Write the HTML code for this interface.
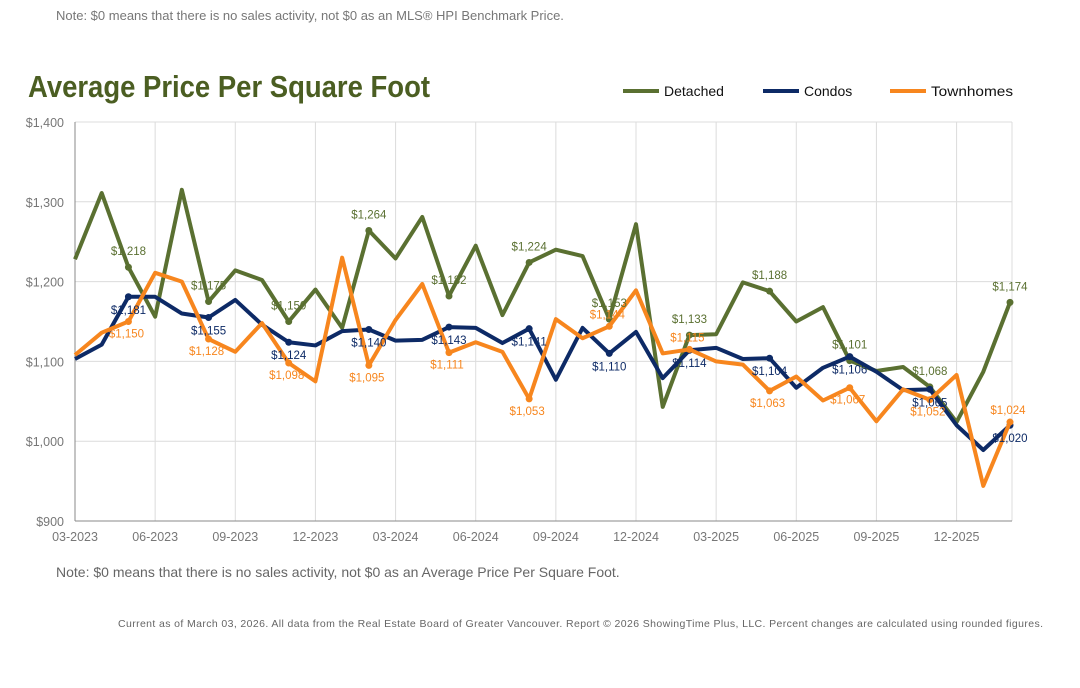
<!DOCTYPE html>
<html><head><meta charset="utf-8"><style>
html,body{margin:0;padding:0;background:#fff;}
svg{display:block;font-family:"Liberation Sans",sans-serif;}
</style></head><body>
<svg id="chart" width="1080" height="688" viewBox="0 0 1080 688">
<text x="56" y="20" font-size="13" fill="#777">Note: $0 means that there is no sales activity, not $0 as an MLS® HPI Benchmark Price.</text>
<text x="28" y="97" font-size="31" font-weight="bold" fill="#4b5e22" textLength="402" lengthAdjust="spacingAndGlyphs" style="font-family:'Liberation Sans Narrow','Liberation Sans',sans-serif">Average Price Per Square Foot</text>
<g>
<g><line x1="623" y1="91" x2="659" y2="91" stroke="#5a7031" stroke-width="4"/><text x="664" y="96" font-size="14" fill="#111">Detached</text></g>
<g><line x1="763" y1="91" x2="799" y2="91" stroke="#0d2a66" stroke-width="4"/><text x="804" y="96" font-size="14" fill="#111">Condos</text></g>
<g><line x1="890" y1="91" x2="926" y2="91" stroke="#f7861e" stroke-width="4"/><text x="931" y="96" font-size="14" fill="#111" textLength="82" lengthAdjust="spacingAndGlyphs">Townhomes</text></g>
</g>
<g id="grid"></g><g id="series"></g><g id="labels"></g>
<text x="56" y="577" font-size="14" fill="#666">Note: $0 means that there is no sales activity, not $0 as an Average Price Per Square Foot.</text>
<text x="118" y="627" font-size="10.5" fill="#666" textLength="925" lengthAdjust="spacing">Current as of March 03, 2026. All data from the Real Estate Board of Greater Vancouver.  Report © 2026 ShowingTime Plus, LLC. Percent changes are calculated using rounded figures.</text>
</svg>
<script>
const xTickLabels=["03-2023","06-2023","09-2023","12-2023","03-2024","06-2024","09-2024","12-2024","03-2025","06-2025","09-2025","12-2025"];
const yTicks=[900,1000,1100,1200,1300,1400];
const detached=[1228,1311,1218,1156,1315,1175,1214,1202,1150,1190,1142,1264,1229,1281,1182,1245,1158,1224,1240,1232,1153,1272,1043,1133,1134,1199,1188,1150,1168,1101,1088,1093,1068,1024,1087,1174];
const condos=[1103,1121,1181,1181,1160,1155,1177,1146,1124,1120,1138,1140,1126,1127,1143,1142,1123,1141,1077,1142,1110,1137,1079,1114,1117,1103,1104,1067,1092,1106,1087,1064,1065,1020,989,1020];
const townhomes=[1108,1136,1150,1211,1200,1128,1112,1148,1098,1075,1230,1095,1152,1197,1111,1124,1112,1053,1153,1129,1144,1189,1110,1115,1100,1096,1063,1081,1051,1067,1025,1065,1052,1083,944,1024];
const NS="http://www.w3.org/2000/svg";
const X0=75,X1=1010,Y0=521,Y1=122,N=detached.length;
const xs=i=>X0+(X1-X0)*i/(N-1);
const ys=v=>Y0-(v-900)/500*(Y0-Y1);
function mk(tag,attrs,parent){const e=document.createElementNS(NS,tag);for(const k in attrs)e.setAttribute(k,attrs[k]);parent.appendChild(e);return e;}
const grid=document.getElementById('grid');
yTicks.forEach(v=>{
  const l=mk('line',{x1:X0,x2:1012,y1:ys(v),y2:ys(v),stroke:'#dcdcdc','stroke-width':1},grid);
  
  
  const t=mk('text',{x:64,y:ys(v)+5,'font-size':12.5,fill:'#777','text-anchor':'end'},grid);
  t.textContent='$'+v.toLocaleString('en-US');
  
  
});
xTickLabels.forEach((s,j)=>{
  const x=xs(j*3);
  const l=mk('line',{x1:x,x2:x,y1:Y1,y2:Y0,stroke:'#dcdcdc','stroke-width':1},grid);
  
  
  const t=mk('text',{x:x,y:541,'font-size':12.5,fill:'#777','text-anchor':'middle'},grid);
  t.textContent=s;
  
  
});
mk('line',{x1:1012,x2:1012,y1:Y1,y2:Y0,stroke:'#dcdcdc'},grid);
const ax=mk('line',{x1:X0,x2:X0,y1:Y1,y2:Y0,stroke:'#888'},grid);


const ax2=mk('line',{x1:X0,x2:1012,y1:Y0,y2:Y0,stroke:'#888'},grid);


const ser=document.getElementById('series'),lab=document.getElementById('labels');
const defs=[[detached,'#5a7031','detached',-12,0],[condos,'#0d2a66','condos',17,0],[townhomes,'#f7861e','townhomes',-8,-2]];
defs.forEach(([d,c,n,dy,dx])=>{
  const p=mk('polyline',{points:d.map((v,i)=>xs(i)+','+ys(v)).join(' '),fill:'none',stroke:c,'stroke-width':4,'stroke-linejoin':'round'},ser);
  
  
  for(let i=2;i<N;i+=3){
    const m=mk('circle',{cx:xs(i),cy:ys(d[i]),r:3.5,fill:c},ser);
    
    
    let off=dy;
    if(n==='townhomes') off=(d[i]>condos[i])?-8:16;
    const t=mk('text',{x:xs(i)+dx,y:ys(d[i])+off,'font-size':11.5,fill:c,'text-anchor':'middle'},lab);
    t.textContent='$'+d[i].toLocaleString('en-US');
    
    
  }
});
</script>
</body></html>
